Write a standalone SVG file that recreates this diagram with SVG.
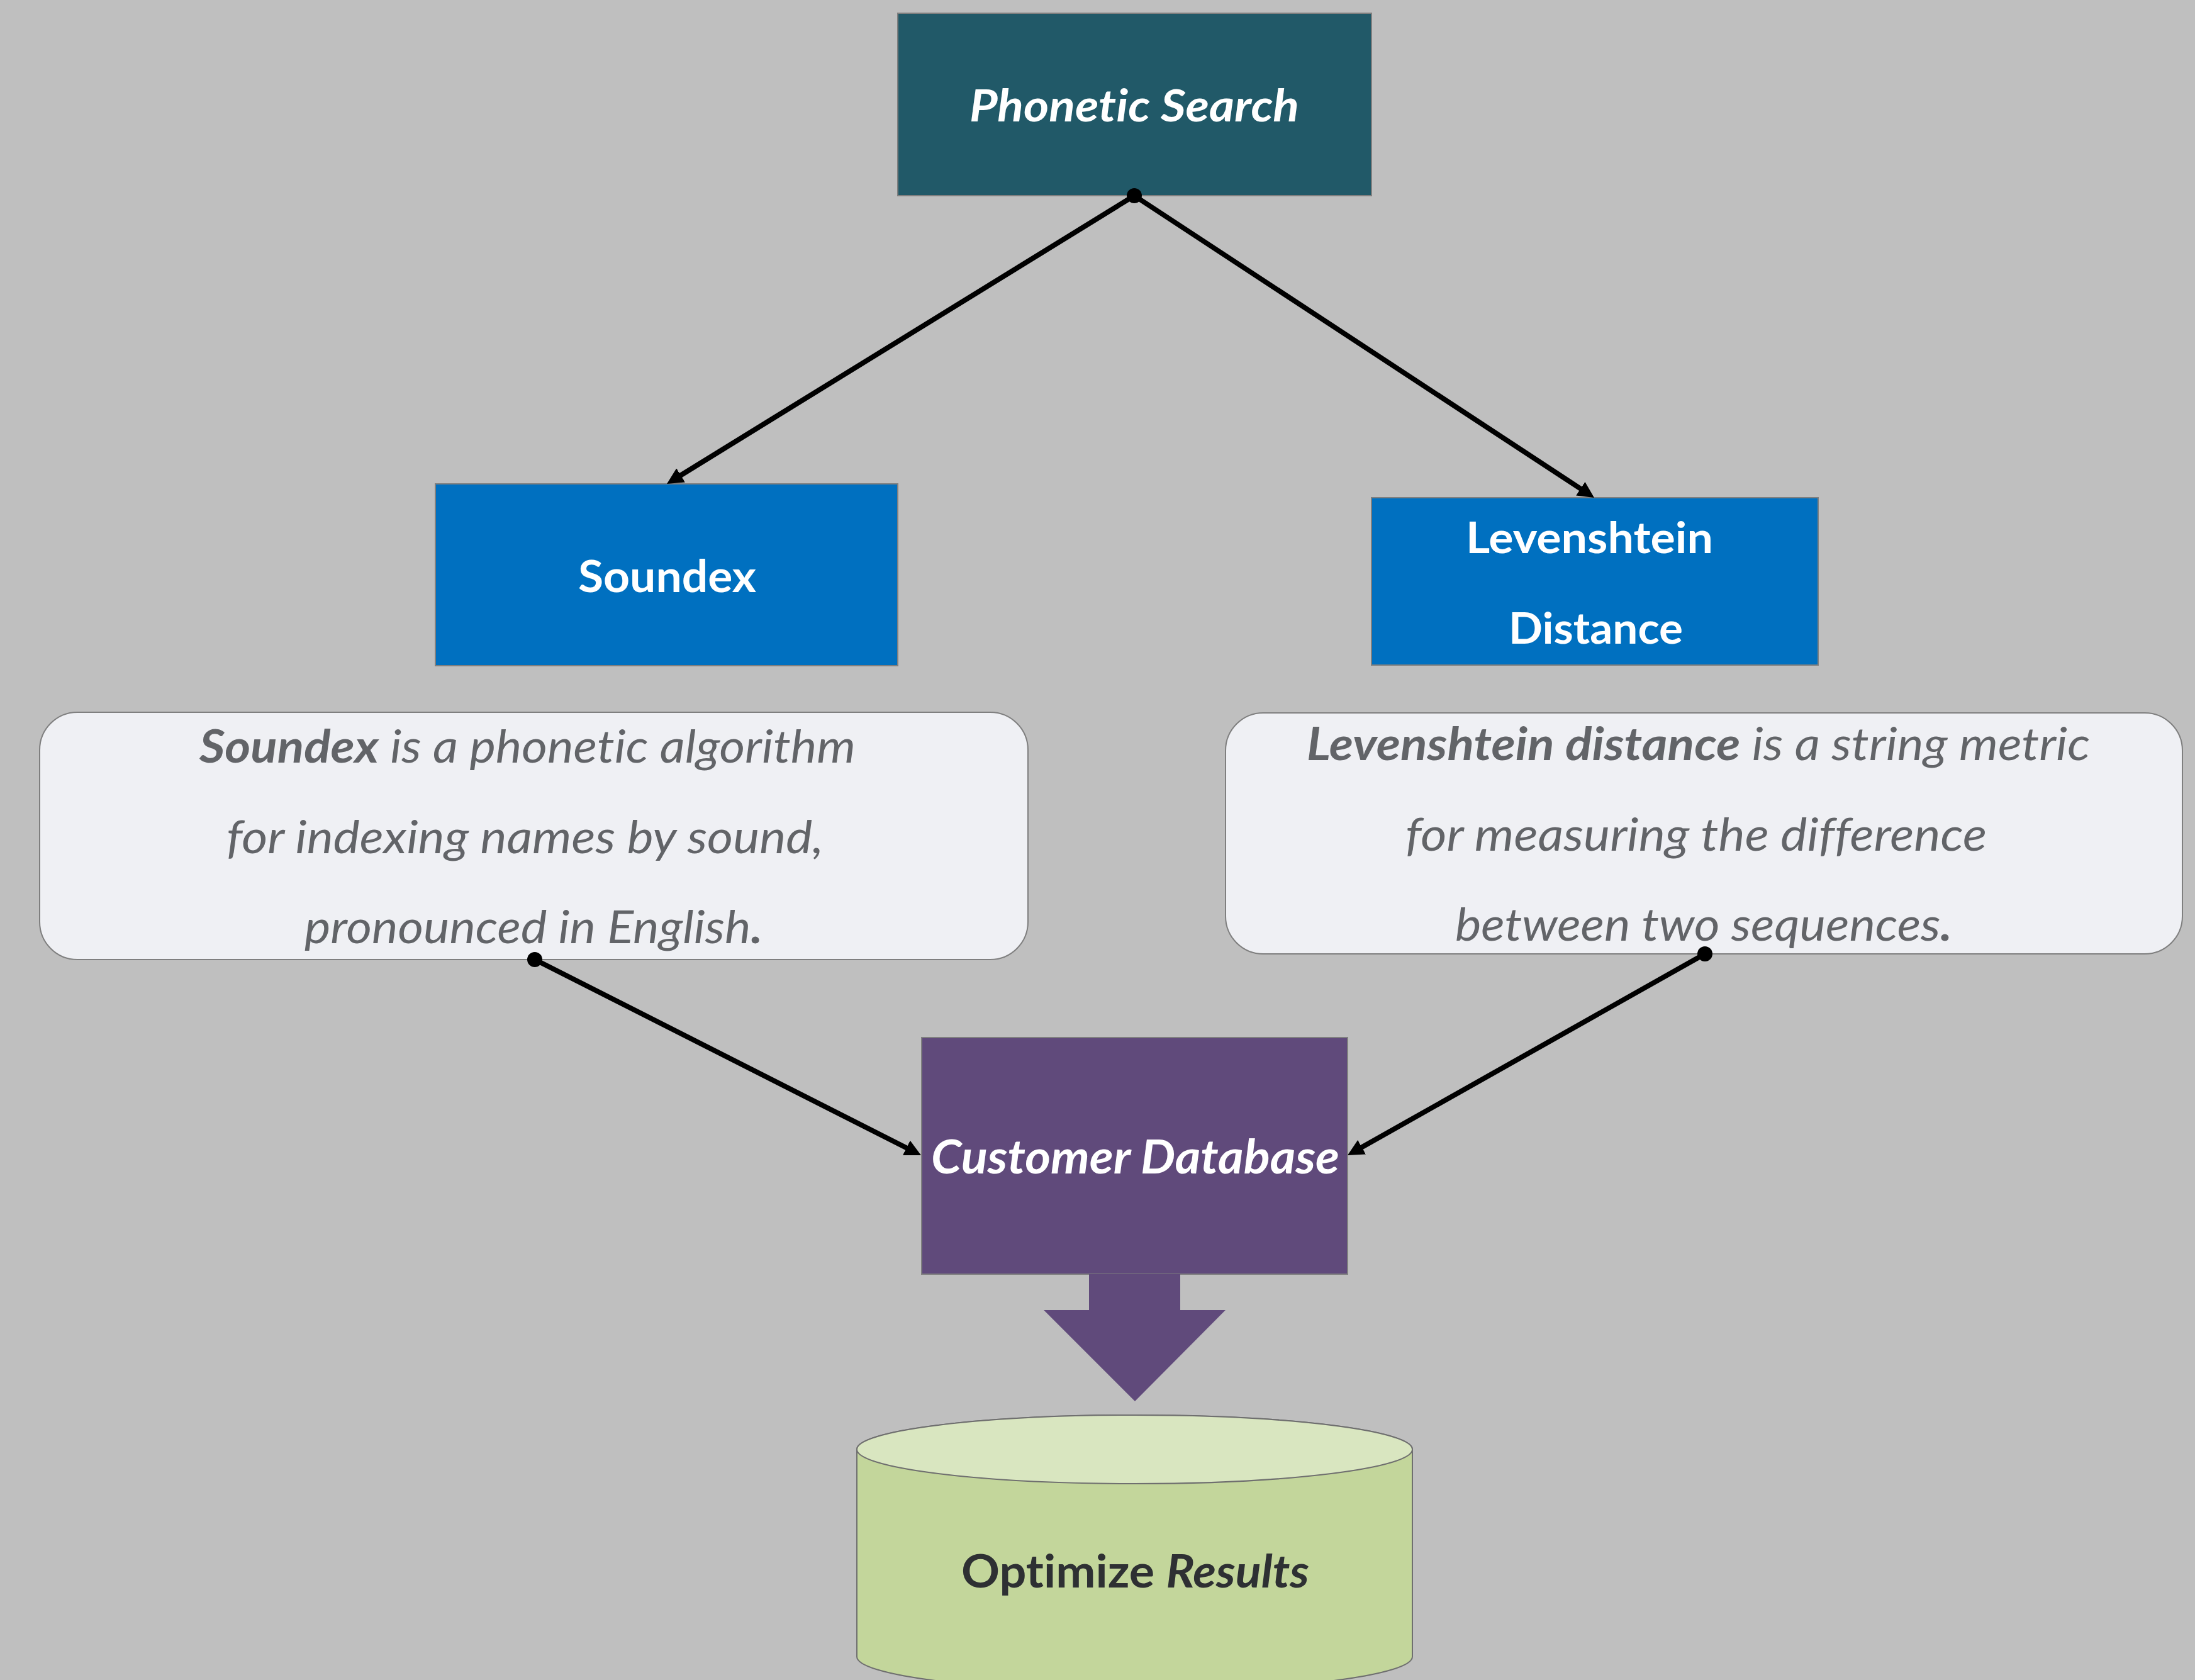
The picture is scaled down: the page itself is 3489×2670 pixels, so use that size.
<svg xmlns="http://www.w3.org/2000/svg" width="3489" height="2670" viewBox="0 0 3489 2670">
<style>
text{font-variant-ligatures:none}
.box{stroke:#7f7f7f;stroke-width:2}
.hdr{font-family:Lato,"Liberation Sans",sans-serif;font-weight:bold;fill:#ffffff}
.desc{font-family:Lato,"Liberation Sans",sans-serif;font-style:italic;fill:#626468;font-size:72px}
.b{font-weight:bold}
.conn{stroke:#000;stroke-width:8;fill:none}
</style>
<defs>
<marker id="arr" markerUnits="userSpaceOnUse" markerWidth="28" markerHeight="26" refX="6" refY="13" orient="auto" viewBox="0 0 28 26">
<path d="M0,0 L26,13 L0,26 z" fill="#000"/>
</marker>
</defs>
<rect x="0" y="0" width="3489" height="2670" fill="#bfbfbf"/>

<g id="phonetic-search">
<rect class="box" x="1427" y="21" width="753" height="290" fill="#215968"/>
<text class="hdr" x="1541" y="193" font-size="70" font-style="italic" textLength="524" lengthAdjust="spacingAndGlyphs">Phonetic Search</text>
</g>

<g id="soundex">
<rect class="box" x="692" y="769" width="735" height="289" fill="#0070c0"/>
<text class="hdr" x="919" y="941" font-size="71" textLength="283" lengthAdjust="spacingAndGlyphs">Soundex</text>
</g>

<g id="levenshtein">
<rect class="box" x="2180" y="791" width="710" height="266" fill="#0070c0"/>
<text class="hdr" x="2330" y="879" font-size="69" textLength="393" lengthAdjust="spacingAndGlyphs">Levenshtein</text>
<text class="hdr" x="2398" y="1023" font-size="69" textLength="277" lengthAdjust="spacingAndGlyphs">Distance</text>
</g>

<g id="soundex-desc">
<rect class="box" x="63" y="1132" width="1571" height="393" rx="60" ry="60" fill="#eff0f4"/>
<text class="desc" x="317" y="1212" textLength="1043" lengthAdjust="spacingAndGlyphs"><tspan class="b">Soundex</tspan> is a phonetic algorithm</text>
<text class="desc" x="360" y="1356" textLength="949" lengthAdjust="spacingAndGlyphs">for indexing names by sound,</text>
<text class="desc" x="484" y="1499" textLength="728" lengthAdjust="spacingAndGlyphs">pronounced in English<tspan class="b">.</tspan></text>
</g>

<g id="levenshtein-desc">
<rect class="box" x="1948" y="1133" width="1521" height="383" rx="60" ry="60" fill="#eff0f4"/>
<text class="desc" x="2077" y="1208" textLength="1245" lengthAdjust="spacingAndGlyphs"><tspan class="b">Levenshtein distance</tspan> is a string metric</text>
<text class="desc" x="2234" y="1352" textLength="924" lengthAdjust="spacingAndGlyphs">for measuring the difference</text>
<text class="desc" x="2313" y="1495" textLength="790" lengthAdjust="spacingAndGlyphs">between two sequences<tspan class="b">.</tspan></text>
</g>

<g id="customer-database">
<rect class="box" x="1465" y="1649" width="677" height="376" fill="#604a7b"/>
<text class="hdr" x="1480" y="1865" font-size="74" font-style="italic" textLength="649" lengthAdjust="spacingAndGlyphs">Customer Database</text>
</g>

<g id="optimize-results">
<path d="M1362,2303.5 V2633 A441.5,54.5 0 0 0 2245,2633 V2303.5 A441.5,54.5 0 0 0 1362,2303.5 Z" fill="#c3d69b" stroke="#6f6f6f" stroke-width="2"/>
<ellipse cx="1803.5" cy="2303.5" rx="441.5" ry="54.5" fill="#d9e6c0" stroke="#6f6f6f" stroke-width="2"/>
<text x="1528" y="2523" font-family="Lato,'Liberation Sans',sans-serif" font-weight="bold" font-size="72" fill="#2e3033" textLength="553" lengthAdjust="spacingAndGlyphs">Optimize <tspan font-style="italic">Results</tspan></text>
</g>

<g id="connectors">
<line class="conn" x1="1803" y1="311" x2="1077" y2="758.5" marker-end="url(#arr)"/>
<line class="conn" x1="1803" y1="311" x2="2517.3" y2="780" marker-end="url(#arr)"/>
<line class="conn" x1="850" y1="1525" x2="1446.2" y2="1827" marker-end="url(#arr)"/>
<line class="conn" x1="2710" y1="1516" x2="2159.4" y2="1826.2" marker-end="url(#arr)"/>
<circle cx="1803" cy="311" r="12" fill="#000"/>
<circle cx="850" cy="1525" r="12" fill="#000"/>
<circle cx="2710" cy="1516" r="12" fill="#000"/>
<polygon points="1731,2025 1876,2025 1876,2082 1948,2082 1804,2227 1659,2082 1731,2082" fill="#604a7b"/>
</g>
</svg>
